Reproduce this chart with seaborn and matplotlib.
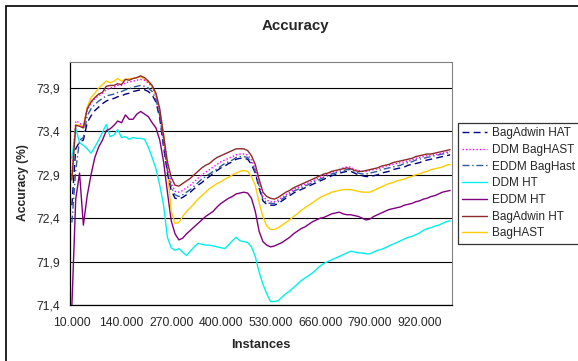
import numpy as np
import pandas as pd
import seaborn as sns
import matplotlib
matplotlib.use("Agg")
import matplotlib.pyplot as plt
from matplotlib.patches import Rectangle
from matplotlib.ticker import FixedLocator, FuncFormatter

sns.set_style("white")
plt.rcParams['font.family'] = ['Liberation Sans', 'DejaVu Sans']

# 100 categories: 10.000 ... 1.000.000 instances
instances = list(range(10000, 1000001, 10000))

bagadwin_hat = [
    72.55, 73.20, 73.28, 73.30, 73.50, 73.58, 73.64, 73.68, 73.72, 73.75,
    73.77, 73.78, 73.80, 73.81, 73.83, 73.84, 73.86, 73.87, 73.88, 73.88,
    73.86, 73.82, 73.74, 73.55, 73.22, 72.92, 72.72, 72.63, 72.62, 72.64,
    72.67, 72.70, 72.74, 72.78, 72.81, 72.85, 72.88, 72.92, 72.95, 72.98,
    73.00, 73.03, 73.05, 73.08, 73.09, 73.09, 73.08, 73.02, 72.92, 72.75,
    72.60, 72.56, 72.55, 72.55, 72.57, 72.60, 72.63, 72.66, 72.69, 72.71,
    72.73, 72.75, 72.77, 72.79, 72.81, 72.83, 72.85, 72.87, 72.89, 72.90,
    72.92, 72.93, 72.94, 72.94, 72.92, 72.90, 72.89, 72.88, 72.88, 72.89,
    72.90, 72.92, 72.93, 72.94, 72.96, 72.97, 72.98, 72.99, 73.01, 73.02,
    73.03, 73.04, 73.06, 73.07, 73.08, 73.09, 73.10, 73.11, 73.12, 73.13]

ddm_baghast = [
    72.90, 73.52, 73.50, 73.45, 73.64, 73.73, 73.78, 73.81, 73.84, 73.88,
    73.90, 73.91, 73.93, 73.93, 73.96, 73.97, 73.98, 73.99, 74.00, 73.99,
    73.96, 73.91, 73.82, 73.63, 73.30, 73.00, 72.80, 72.71, 72.70, 72.72,
    72.75, 72.78, 72.82, 72.86, 72.90, 72.93, 72.96, 72.99, 73.02, 73.05,
    73.07, 73.09, 73.11, 73.13, 73.14, 73.14, 73.13, 73.07, 72.97, 72.80,
    72.65, 72.61, 72.59, 72.59, 72.61, 72.64, 72.67, 72.70, 72.73, 72.75,
    72.77, 72.79, 72.81, 72.83, 72.85, 72.87, 72.89, 72.91, 72.93, 72.94,
    72.96, 72.98, 72.99, 72.99, 72.96, 72.95, 72.94, 72.94, 72.95, 72.96,
    72.97, 72.98, 73.00, 73.01, 73.02, 73.03, 73.04, 73.05, 73.06, 73.07,
    73.09, 73.10, 73.11, 73.12, 73.13, 73.13, 73.14, 73.15, 73.16, 73.17]

eddm_baghast = [
    72.35, 72.95, 73.30, 73.33, 73.58, 73.66, 73.71, 73.75, 73.78, 73.81,
    73.82, 73.83, 73.85, 73.86, 73.88, 73.89, 73.91, 73.92, 73.93, 73.92,
    73.90, 73.86, 73.77, 73.58, 73.25, 72.95, 72.76, 72.67, 72.65, 72.67,
    72.70, 72.73, 72.77, 72.81, 72.85, 72.88, 72.91, 72.94, 72.97, 73.00,
    73.03, 73.05, 73.07, 73.10, 73.11, 73.11, 73.10, 73.04, 72.94, 72.77,
    72.62, 72.58, 72.57, 72.57, 72.59, 72.62, 72.65, 72.68, 72.71, 72.73,
    72.75, 72.77, 72.79, 72.81, 72.83, 72.85, 72.87, 72.89, 72.91, 72.92,
    72.94, 72.95, 72.96, 72.96, 72.94, 72.92, 72.91, 72.91, 72.92, 72.93,
    72.94, 72.96, 72.97, 72.98, 72.99, 73.00, 73.01, 73.03, 73.04, 73.05,
    73.07, 73.08, 73.09, 73.10, 73.11, 73.12, 73.13, 73.14, 73.15, 73.16]

ddm_ht = [
    73.09, 73.44, 73.27, 73.24, 73.20, 73.15, 73.22, 73.30, 73.39, 73.48,
    73.34, 73.36, 73.42, 73.33, 73.34, 73.31, 73.33, 73.32, 73.32, 73.31,
    73.22, 73.10, 72.97, 72.78, 72.55, 72.18, 72.06, 72.03, 72.05, 72.01,
    71.97, 72.02, 72.07, 72.11, 72.10, 72.09, 72.09, 72.08, 72.07, 72.06,
    72.05, 72.09, 72.14, 72.18, 72.14, 72.13, 72.12, 72.07, 71.96, 71.78,
    71.64, 71.53, 71.44, 71.44, 71.45, 71.49, 71.53, 71.56, 71.60, 71.64,
    71.68, 71.71, 71.74, 71.77, 71.81, 71.85, 71.88, 71.90, 71.92, 71.94,
    71.96, 71.98, 72.00, 72.02, 72.01, 72.00, 72.00, 71.99, 71.99, 72.01,
    72.03, 72.04, 72.06, 72.08, 72.10, 72.12, 72.14, 72.16, 72.18, 72.19,
    72.21, 72.23, 72.26, 72.28, 72.29, 72.31, 72.32, 72.34, 72.36, 72.37]

eddm_ht = [
    71.40, 72.62, 72.92, 72.32, 72.66, 72.90, 73.10, 73.22, 73.30, 73.41,
    73.43, 73.47, 73.52, 73.50, 73.59, 73.54, 73.54, 73.60, 73.63, 73.60,
    73.57, 73.50, 73.44, 73.30, 73.05, 72.70, 72.37, 72.22, 72.15, 72.17,
    72.22, 72.26, 72.30, 72.34, 72.38, 72.42, 72.45, 72.48, 72.53, 72.57,
    72.60, 72.63, 72.65, 72.68, 72.69, 72.70, 72.69, 72.63, 72.48, 72.25,
    72.13, 72.09, 72.07, 72.08, 72.10, 72.12, 72.15, 72.18, 72.22, 72.25,
    72.28, 72.30, 72.33, 72.36, 72.38, 72.40, 72.41, 72.43, 72.45, 72.46,
    72.47, 72.45, 72.44, 72.44, 72.43, 72.42, 72.40, 72.38, 72.39, 72.42,
    72.44, 72.46, 72.48, 72.50, 72.51, 72.52, 72.53, 72.55, 72.56, 72.57,
    72.59, 72.60, 72.62, 72.63, 72.65, 72.66, 72.68, 72.70, 72.71, 72.72]

bagadwin_ht = [
    72.84, 73.47, 73.46, 73.44, 73.66, 73.74, 73.79, 73.83, 73.85, 73.92,
    73.93, 73.93, 73.95, 73.94, 74.00, 73.99, 74.01, 74.02, 74.04, 74.02,
    73.98, 73.93, 73.84, 73.66, 73.35, 73.05, 72.87, 72.78, 72.77, 72.80,
    72.83, 72.86, 72.90, 72.94, 72.98, 73.01, 73.03, 73.07, 73.10, 73.12,
    73.14, 73.16, 73.18, 73.20, 73.20, 73.20, 73.18, 73.12, 73.02, 72.85,
    72.70, 72.65, 72.63, 72.62, 72.64, 72.67, 72.70, 72.72, 72.75, 72.77,
    72.79, 72.81, 72.83, 72.85, 72.87, 72.89, 72.91, 72.92, 72.94, 72.95,
    72.96, 72.97, 72.98, 72.97, 72.95, 72.94, 72.94, 72.95, 72.96, 72.97,
    72.98, 73.00, 73.01, 73.02, 73.04, 73.05, 73.06, 73.07, 73.08, 73.09,
    73.11, 73.12, 73.13, 73.14, 73.14, 73.15, 73.16, 73.17, 73.18, 73.19]

baghast = [
    72.86, 73.48, 73.47, 73.46, 73.68, 73.79, 73.84, 73.90, 73.94, 73.98,
    73.96, 73.98, 74.01, 73.98, 74.00, 74.01, 74.01, 74.02, 74.03, 74.00,
    73.97, 73.92, 73.82, 73.62, 73.38, 72.95, 72.48, 72.34, 72.35, 72.42,
    72.48, 72.52, 72.57, 72.62, 72.66, 72.70, 72.74, 72.77, 72.80, 72.82,
    72.85, 72.87, 72.90, 72.92, 72.94, 72.95, 72.94, 72.88, 72.78, 72.58,
    72.42, 72.31, 72.27, 72.27, 72.29, 72.32, 72.35, 72.38, 72.42, 72.45,
    72.49, 72.52, 72.55, 72.58, 72.61, 72.64, 72.66, 72.68, 72.70, 72.71,
    72.72, 72.73, 72.73, 72.73, 72.72, 72.71, 72.70, 72.70, 72.70, 72.72,
    72.74, 72.76, 72.78, 72.80, 72.81, 72.83, 72.84, 72.85, 72.87, 72.88,
    72.90, 72.91, 72.93, 72.94, 72.96, 72.97, 72.98, 72.99, 73.01, 73.02]

series = [
    ("BagAdwin HAT", bagadwin_hat, "#000080", (0, (5, 3))),
    ("DDM BagHAST", ddm_baghast, "#FF00FF", (0, (1, 1.5))),
    ("EDDM BagHast", eddm_baghast, "#2E5C9E", (0, (5, 2, 1, 2))),
    ("DDM HT", ddm_ht, "#00F0F0", "-"),
    ("EDDM HT", eddm_ht, "#800080", "-"),
    ("BagAdwin HT", bagadwin_ht, "#8E2A2A", "-"),
    ("BagHAST", baghast, "#FFCC00", "-"),
]
y_ticks = [71.4, 71.9, 72.4, 72.9, 73.4, 73.9]

fig = plt.figure(figsize=(5.78, 3.61), dpi=100)
ax = fig.add_axes([70 / 578, 1 - 305 / 361, 382 / 578, 243 / 361])

# zorder so the solid lines sit like in the original
draw_order = [3, 4, 6, 0, 2, 1, 5]
for k in draw_order:
    name, vals, col, ls = series[k]
    sns.lineplot(x=instances, y=vals, ax=ax, color=col, linestyle=ls,
                 linewidth=1.0, label=name)
by_name = {ln.get_label(): ln for ln in ax.get_lines()}
if ax.get_legend():
    ax.get_legend().remove()

ax.set_xlim(5000, 1005000)
ax.set_ylim(71.4, 74.2)
ax.set_yticks(y_ticks)
ax.yaxis.set_major_formatter(FuncFormatter(lambda v, p: f"{v:.1f}".replace(".", ",")))
xt = instances[::13]
ax.set_xticks(xt)
ax.set_xticklabels([f"{v:,}".replace(",", ".") for v in xt])
ax.xaxis.set_minor_locator(FixedLocator([v - 5000 for v in instances] + [1005000]))
ax.tick_params(axis="x", which="major", length=0, labelsize=8.7, pad=9)
ax.tick_params(axis="x", which="minor", length=3, width=0.8, color="black", direction="out")
ax.tick_params(axis="y", length=0, labelsize=8.7, pad=7)
ax.grid(axis="y", color="black", linewidth=0.8)
ax.set_axisbelow(True)
ax.set_xlabel("")
ax.set_ylabel("")
for s in ["top", "right"]:
    ax.spines[s].set_color("#808080")
    ax.spines[s].set_linewidth(0.8)
for s in ["left", "bottom"]:
    ax.spines[s].set_color("black")
    ax.spines[s].set_linewidth(0.9)

fig.text(295 / 578, 1 - 26 / 361, "Accuracy", ha="center", va="center",
         fontsize=10.8, fontweight="bold")
fig.text(23 / 578, 1 - 183 / 361, "Accuracy (%)", ha="center", va="center",
         rotation=90, fontsize=8.7, fontweight="bold")
fig.text(261 / 578, 1 - 345 / 361, "Instances", ha="center", va="center",
         fontsize=9.3, fontweight="bold")

leg = fig.legend([by_name[s[0]] for s in series], [s[0] for s in series],
                 loc="upper left", bbox_to_anchor=(458 / 578, 1 - 123 / 361),
                 frameon=True, fancybox=False, fontsize=8.5, handlelength=2.1,
                 handletextpad=0.45, labelspacing=0.4, borderpad=0.35,
                 borderaxespad=0)
leg.get_frame().set_edgecolor("black")
leg.get_frame().set_linewidth(0.9)

fig.patches.append(Rectangle((6 / 578, -0.1), 1.2, 1.1 - 6 / 361,
                             transform=fig.transFigure, fill=False,
                             edgecolor="black", linewidth=1.2))

fig.savefig("out.png", dpi=100)
